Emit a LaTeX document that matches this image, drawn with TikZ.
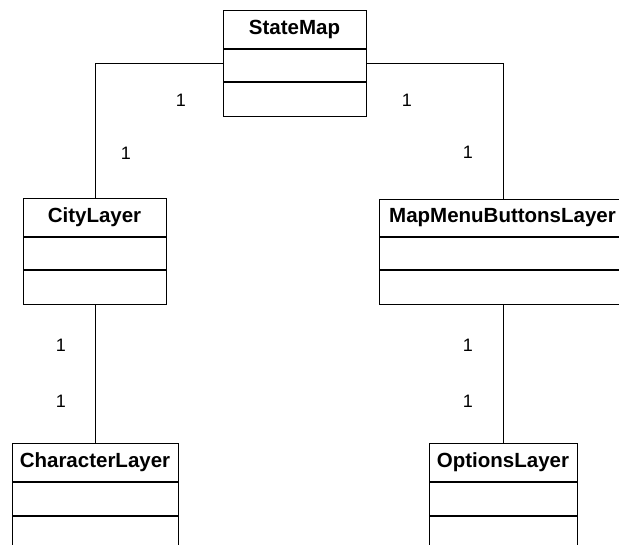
\documentclass[tikz,border=0pt]{standalone}
\usepackage{fontspec}
\setmainfont{Liberation Sans}
\begin{document}
\begin{tikzpicture}[x=1pt,y=-1pt,
  classbox/.style={draw=black, line width=1.1pt, fill=white, rectangle, inner sep=0pt, anchor=north west},
  divider/.style={draw=black, line width=1.1pt},
  ctitle/.style={font=\fontsize{20.5}{24}\selectfont\bfseries, inner sep=0pt},
  mult/.style={font=\fontsize{18}{21}\selectfont, inner sep=0pt},
  assoc/.style={draw=black, line width=0.8pt}]
\useasboundingbox (0,0) rectangle (619,545);
\begin{scope}
\clip (0,0) rectangle (619,545);
% boxes
\node[classbox, minimum width=143pt, minimum height=106pt] (sm) at (223,10) {};
\node[classbox, minimum width=143pt, minimum height=106pt] (cl) at (23,198) {};
\node[classbox, minimum width=247pt, minimum height=105pt] (mm) at (379,199) {};
\node[classbox, minimum width=166pt, minimum height=110pt] (ch) at (12,443) {};
\node[classbox, minimum width=148pt, minimum height=110pt] (op) at (429,443) {};
% dividers
\draw[divider] (223,49) -- (366,49) (223,82) -- (366,82);
\draw[divider] (23,237) -- (166,237) (23,270) -- (166,270);
\draw[divider] (379,237) -- (626,237) (379,270) -- (626,270);
\draw[divider] (12,482) -- (178,482) (12,516) -- (178,516);
\draw[divider] (429,482) -- (577,482) (429,516) -- (577,516);
% titles
\node[ctitle] (smt) at (294.5,29.5) {StateMap};
\node[ctitle] (clt) at (94.5,217.5) {CityLayer};
\node[ctitle] (mmt) at (502.5,218) {MapMenuButtonsLayer};
\node[ctitle] (cht) at (95,462.5) {CharacterLayer};
\node[ctitle] (opt) at (503,462.5) {OptionsLayer};
\end{scope}
% connectors
\draw[assoc] (sm.west) -| (cl.north);
\draw[assoc] (sm.east) -| (mm.north);
\draw[assoc] (cl.south) -- (cl.south |- ch.north);
\draw[assoc] (mm.south) -- (mm.south |- op.north);
% multiplicities
\node[mult] (m1) at (181,100) {1};
\node[mult] (m2) at (126,153) {1};
\node[mult] (m3) at (407,100) {1};
\node[mult] (m4) at (468,152) {1};
\node[mult] (m5) at (61,345) {1};
\node[mult] (m6) at (61,401) {1};
\node[mult] (m7) at (468,345) {1};
\node[mult] (m8) at (468,401) {1};
\end{tikzpicture}
\end{document}
